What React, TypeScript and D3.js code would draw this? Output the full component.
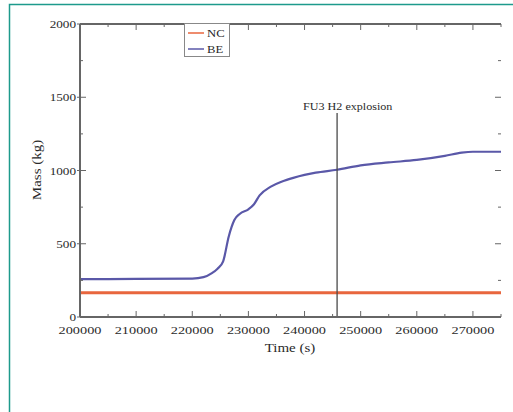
import React from "react";
import * as d3 from "d3";

// Time (s) and mass (kg) for the two cases
const timeBE = [200000, 210000, 220000, 222000, 223500, 224500, 225500, 226500, 227500, 228500, 230000, 231000, 232000, 234000, 236000, 238000, 240000, 242000, 245800, 250000, 255000, 260000, 265000, 268000, 270000, 275000];
const massBE = [258, 260, 262, 272, 300, 330, 380, 550, 662, 705, 735, 770, 830, 890, 925, 950, 970, 985, 1005, 1035, 1055, 1072, 1100, 1122, 1128, 1128];
const timeNC = [200000, 275000];
const massNC = [165, 165];

const xTicks = [200000, 210000, 220000, 230000, 240000, 250000, 260000, 270000];
const yTicks = [0, 500, 1000, 1500, 2000];
const eventTime = 245800;
const eventLabel = "FU3 H2 explosion";
const seriesNames = ["NC", "BE"];
const seriesColors = ["#e8663e", "#5a58a8"];

// text drawn with a horizontal stretch around its anchor point
function Label(props: { x: number; y: number; sx?: number; anchor?: string; size?: number; children: React.ReactNode }) {
  const { x, y, sx = 1.3, anchor = "start", size = 11, children } = props;
  return (
    <text transform={`translate(${x},${y}) scale(${sx},1)`} textAnchor={anchor} fontSize={size} fill="#2a2a2a">
      {children}
    </text>
  );
}

export default function App() {
  const left = 80, right = 501, top = 24, bottom = 317;
  const x = d3.scaleLinear().domain([200000, 275000]).range([left, right]);
  const y = d3.scaleLinear().domain([0, 2000]).range([bottom, top]);
  const line = d3.line<[number, number]>().x(d => x(d[0])).y(d => y(d[1])).curve(d3.curveMonotoneX);
  const be = timeBE.map((t, i) => [t, massBE[i]] as [number, number]);
  const nc = timeNC.map((t, i) => [t, massNC[i]] as [number, number]);
  const xMinor = d3.range(200000, 275001, 5000);
  const yMinor = d3.range(0, 2001, 250);
  const axisColor = "#666";
  const font = "'Liberation Serif', 'DejaVu Serif', serif";

  return (
    <svg width={513} height={412} style={{ position: "absolute", left: 0, top: 0 }} fontFamily={font}>
      <rect x={0} y={0} width={513} height={412} fill="#fff" />
      {/* outer frame */}
      <path d="M9.5,420 V4.5 H520" fill="none" stroke="#1d9a8c" strokeWidth={1.5} />

      {/* series */}
      <path d={line(nc) || ""} fill="none" stroke={seriesColors[0]} strokeWidth={3} />
      <path d={line(be) || ""} fill="none" stroke={seriesColors[1]} strokeWidth={2.2} />

      {/* event marker */}
      <line x1={x(eventTime)} x2={x(eventTime)} y1={113} y2={bottom} stroke="#4a4a4a" strokeWidth={1.3} />
      <Label x={x(eventTime) - 34} y={110} sx={1.1}>{eventLabel}</Label>

      {/* axes */}
      <line x1={left} x2={left} y1={top} y2={bottom} stroke={axisColor} strokeWidth={2} />
      <line x1={left} x2={right} y1={bottom} y2={bottom} stroke={axisColor} strokeWidth={2} />
      <line x1={left} x2={right} y1={top} y2={top} stroke={axisColor} strokeWidth={2} />
      {xMinor.map(t => {
        const major = t % 10000 === 0;
        const len = major ? 6 : 3;
        return (
          <g key={"xt" + t} stroke={axisColor} strokeWidth={1}>
            <line x1={x(t)} x2={x(t)} y1={bottom} y2={bottom - len} />
            <line x1={x(t)} x2={x(t)} y1={top} y2={top + len} />
          </g>
        );
      })}
      {yMinor.map(v => {
        const major = v % 500 === 0;
        const len = major ? 6 : 3;
        return (
          <g key={"yt" + v} stroke={axisColor} strokeWidth={1}>
            <line x1={left - (major ? 3 : 0)} x2={left + len} y1={y(v)} y2={y(v)} />
            <line x1={right} x2={right - len} y1={y(v)} y2={y(v)} />
          </g>
        );
      })}
      {xTicks.map(t => (
        <Label key={"xl" + t} x={x(t)} y={334} anchor="middle">{t}</Label>
      ))}
      {yTicks.map(v => (
        <Label key={"yl" + v} x={76} y={y(v) + 4} anchor="end" sx={1.2}>{v}</Label>
      ))}
      <Label x={290} y={352} anchor="middle" size={12} sx={1.25}>Time (s)</Label>
      <text transform="translate(41,170) rotate(-90) scale(1.2,1)" textAnchor="middle" fontSize={12.5} fill="#2a2a2a">Mass (kg)</text>

      {/* legend */}
      <rect x={184.5} y={23.5} width={45} height={33} fill="#fff" stroke="#888" strokeWidth={1} />
      {seriesNames.map((n, i) => (
        <g key={n}>
          <line x1={188} x2={204} y1={33 + i * 16} y2={33 + i * 16} stroke={seriesColors[i]} strokeWidth={1.5} />
          <Label x={207} y={37 + i * 16} sx={1.15}>{n}</Label>
        </g>
      ))}
    </svg>
  );
}
